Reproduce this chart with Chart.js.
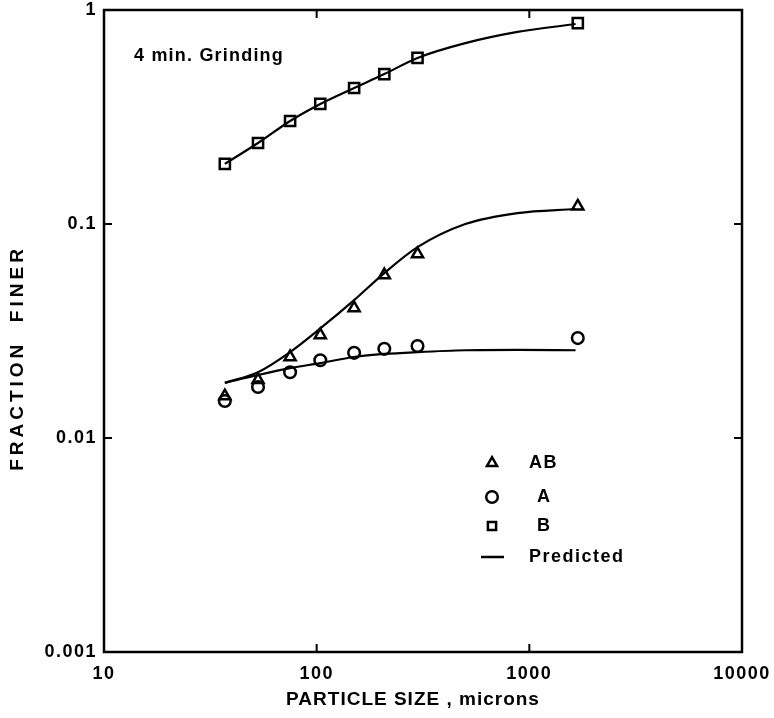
<!DOCTYPE html>
<html>
<head>
<meta charset="utf-8">
<script src="https://cdn.jsdelivr.net/npm/chart.js@4.4.1/dist/chart.umd.min.js"></script>
<style>
  html, body { margin: 0; padding: 0; background: #fff; }
  #wrap { width: 774px; height: 718px; position: relative; }
</style>
</head>
<body>
<div id="wrap"><canvas id="grindChart"></canvas></div>
<script>
// --- measured points (particle size in microns, fraction finer) ---
const sizes = [37, 53, 75, 104, 150, 208, 298, 1690];
const fracAB = [0.0157, 0.0187, 0.0239, 0.0303, 0.0405, 0.0578, 0.0724, 0.121];
const fracA = [0.0149, 0.0173, 0.0203, 0.0231, 0.0250, 0.0261, 0.0269, 0.0293];
const fracB = [0.191, 0.239, 0.303, 0.364, 0.432, 0.502, 0.597, 0.869];

// --- predicted curves ---
const predSizes = [37, 53, 75, 104, 150, 208, 298, 500, 880, 1650];
const predAB = [0.0181, 0.0203, 0.0252, 0.0325, 0.0441, 0.059, 0.078, 0.100, 0.1125, 0.1175];
const predA = [0.0181, 0.0197, 0.0212, 0.0224, 0.0239, 0.0247, 0.0252, 0.0257, 0.0258, 0.0257];
const predB = [0.191, 0.239, 0.303, 0.364, 0.432, 0.502, 0.597, 0.70, 0.79, 0.86];

// --- axes ---
const xTicks = [10, 100, 1000, 10000];
const yTicks = [0.001, 0.01, 0.1, 1];

const legendItems = [
    { style: 'triangle', text: 'AB' },
    { style: 'circle', text: 'A' },
    { style: 'rect', text: 'B' },
    { style: 'line', text: 'Predicted' }
];

function pairs(xs, ys) {
    return xs.map((x, i) => ({ x: x, y: ys[i] }));
}

function markerSet(label, ys, style, r) {
    return {
        type: 'scatter',
        label: label,
        data: pairs(sizes, ys),
        pointStyle: style,
        pointRadius: r,
        borderColor: '#000',
        backgroundColor: 'rgba(255,255,255,0)',
        borderWidth: 2.5,
        showLine: false,
        order: 1
    };
}

function curveSet(label, ys) {
    return {
        type: 'line',
        label: label,
        data: pairs(predSizes, ys),
        borderColor: '#000',
        borderWidth: 2.2,
        pointRadius: 0,
        fill: false,
        cubicInterpolationMode: 'monotone',
        order: 2
    };
}

const FONT = '"Liberation Sans", Arial, sans-serif';

// frame, inward ticks, titles, note and legend
const decorPlugin = {
    id: 'decor',
    beforeDraw(chart) {
        chart.ctx.letterSpacing = '1.5px';
    },
    afterDraw(chart) {
        const ctx = chart.ctx;
        const a = chart.chartArea;
        const xs = chart.scales.x, ys = chart.scales.y;
        ctx.save();
        ctx.strokeStyle = '#000';
        ctx.lineWidth = 2.5;
        ctx.strokeRect(a.left, a.top, a.right - a.left, a.bottom - a.top);

        ctx.lineWidth = 2;
        const tl = 8;
        [100, 1000].forEach(v => {
            const px = xs.getPixelForValue(v);
            ctx.beginPath();
            ctx.moveTo(px, a.bottom); ctx.lineTo(px, a.bottom - tl);
            ctx.moveTo(px, a.top); ctx.lineTo(px, a.top + tl);
            ctx.stroke();
        });
        [0.01, 0.1].forEach(v => {
            const py = ys.getPixelForValue(v);
            ctx.beginPath();
            ctx.moveTo(a.left, py); ctx.lineTo(a.left + tl, py);
            ctx.moveTo(a.right, py); ctx.lineTo(a.right - tl, py);
            ctx.stroke();
        });

        ctx.fillStyle = '#000';
        // x title
        ctx.letterSpacing = '1px';
        ctx.font = 'bold 19px ' + FONT;
        ctx.textAlign = 'center';
        ctx.textBaseline = 'middle';
        ctx.fillText('PARTICLE SIZE , microns', (a.left + a.right) / 2 - 10, 700);

        // y title
        ctx.save();
        ctx.translate(18, 358);
        ctx.rotate(-Math.PI / 2);
        ctx.letterSpacing = '4px';
        ctx.font = 'bold 19px ' + FONT;
        ctx.fillText('FRACTION  FINER', 0, 0);
        ctx.restore();

        // note
        ctx.letterSpacing = '1.2px';
        ctx.font = 'bold 18px ' + FONT;
        ctx.textAlign = 'left';
        ctx.fillText('4 min. Grinding', a.left + 30, 56);

        // legend
        ctx.letterSpacing = '1.5px';
        ctx.font = 'bold 18px ' + FONT;
        const lx = a.left + 388, rows = [463, 497, 526, 557];
        legendItems.forEach((it, i) => {
            const y = rows[i];
            ctx.lineWidth = 2.5;
            if (it.style === 'line') {
                ctx.beginPath();
                ctx.moveTo(lx - 11, y); ctx.lineTo(lx + 12, y);
                ctx.stroke();
            } else {
                ctx.fillStyle = '#fff';
                Chart.helpers.drawPoint(ctx, { pointStyle: it.style, radius: 5.8, rotation: 0, borderWidth: 2.5 }, lx, y);
                ctx.fillStyle = '#000';
            }
            const tx = it.text.length === 1 ? lx + 45 : lx + 37;
            ctx.fillText(it.text, tx, y);
        });
        ctx.restore();
    }
};

new Chart(document.getElementById('grindChart'), {
    type: 'scatter',
    data: {
        datasets: [
            markerSet('AB', fracAB, 'triangle', 6.4),
            markerSet('A', fracA, 'circle', 5.8),
            markerSet('B', fracB, 'rect', 7.2),
            curveSet('Predicted AB', predAB),
            curveSet('Predicted A', predA),
            curveSet('Predicted B', predB)
        ]
    },
    options: {
        responsive: true,
        maintainAspectRatio: false,
        animation: false,
        layout: { padding: { top: 10, right: 32, left: 0, bottom: 0 } },
        plugins: { legend: { display: false }, tooltip: { enabled: false } },
        scales: {
            x: {
                type: 'logarithmic',
                min: 10,
                max: 10000,
                afterBuildTicks: s => { s.ticks = xTicks.map(v => ({ value: v })); },
                afterFit: s => { s.height = 66; s.paddingLeft = 0; s.paddingRight = 0; },
                grid: { display: false, drawTicks: false },
                border: { display: false },
                ticks: {
                    color: '#000',
                    padding: 11,
                    maxRotation: 0,
                    font: { family: FONT, size: 18, weight: 'bold' },
                    callback: v => String(v)
                }
            },
            y: {
                type: 'logarithmic',
                min: 0.001,
                max: 1,
                afterBuildTicks: s => { s.ticks = yTicks.map(v => ({ value: v })); },
                afterFit: s => { s.width = 104; s.paddingTop = 0; s.paddingBottom = 0; },
                grid: { display: false, drawTicks: false },
                border: { display: false },
                ticks: {
                    color: '#000',
                    padding: 7,
                    font: { family: FONT, size: 18, weight: 'bold' },
                    callback: v => String(v)
                }
            }
        }
    },
    plugins: [decorPlugin]
});
</script>
</body>
</html>
